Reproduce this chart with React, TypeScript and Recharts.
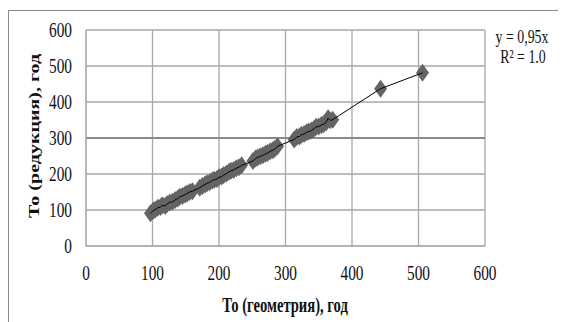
import { ScatterChart, Scatter, XAxis, YAxis, CartesianGrid, ReferenceLine } from "recharts";

// То (геометрия) values, years
const geomX = [
  97, 101, 104, 108, 112, 115, 119, 122, 126, 130, 134, 138, 141, 145, 149, 152, 156, 160,
  171, 175, 179, 182, 186, 190, 193, 197, 200, 204, 207, 211, 215, 218, 222, 226, 230, 234,
  251, 255, 258, 262, 266, 270, 273, 277, 281, 284, 288,
  313, 317, 321, 324, 328, 332, 335, 339, 343, 346, 350, 354, 357, 361, 364, 367, 371,
  443, 506,
];
// То (редукция) values, years
const redY = [
  91, 98, 101, 106, 108, 113, 111, 117, 121, 123, 128, 132, 137, 139, 143, 146, 150, 152,
  162, 167, 171, 174, 177, 182, 184, 186, 191, 193, 197, 201, 206, 209, 211, 216, 219, 224,
  236, 243, 246, 249, 252, 256, 258, 263, 266, 270, 277,
  296, 303, 304, 309, 311, 316, 318, 321, 326, 331, 332, 336, 338, 343, 355, 349, 351,
  437, 481,
];
const axisTicks = [0, 100, 200, 300, 400, 500, 600];

const points = geomX.map((x, i) => ({ x, y: redY[i] }));

const font = "Liberation Serif, Times New Roman, serif";
const squish = 0.73;

const Diamond = (props: any) => {
  const { cx, cy } = props;
  if (cx == null || cy == null) return null;
  return (
    <polygon
      points={`${cx},${cy - 9} ${cx + 6.5},${cy} ${cx},${cy + 9} ${cx - 6.5},${cy}`}
      fill="#646464"
    />
  );
};

const XTick = (props: any) => {
  const { x, y, payload } = props;
  return (
    <text
      transform={`translate(${x},${y + 27}) scale(${squish},1)`}
      textAnchor="middle"
      dominantBaseline="central"
      fontFamily={font}
      fontSize={21}
      fill="#111"
    >
      {payload.value}
    </text>
  );
};

const YTick = (props: any) => {
  const { x, y, payload } = props;
  return (
    <text
      transform={`translate(${x - 14},${y}) scale(${squish},1)`}
      textAnchor="end"
      dominantBaseline="central"
      fontFamily={font}
      fontSize={21}
      fill="#111"
    >
      {payload.value}
    </text>
  );
};

const textBase: any = {
  position: "absolute",
  fontFamily: font,
  color: "#111",
  whiteSpace: "nowrap",
};

export default function App() {
  return (
    <div style={{ position: "relative", width: 558, height: 314 }}>
      <div
        style={{
          position: "absolute",
          left: 0,
          top: 2,
          width: 600,
          height: 400,
          border: "1.5px solid #8a8a8a",
        }}
      />
      <div style={{ position: "absolute", left: 0, top: 0 }}>
        <ScatterChart width={558} height={314} margin={{ top: 22, right: 81, bottom: 0, left: 0 }}>
          <CartesianGrid stroke="#a8a8a8" strokeWidth={1.3} />
          <XAxis
            type="number"
            dataKey="x"
            domain={[0, 600]}
            ticks={axisTicks}
            height={76}
            tickLine={false}
            tickSize={0}
            tickMargin={0}
            axisLine={{ stroke: "#a8a8a8" }}
            tick={<XTick />}
          />
          <YAxis
            type="number"
            dataKey="y"
            domain={[0, 600]}
            ticks={axisTicks}
            width={78}
            tickLine={false}
            tickSize={0}
            tickMargin={0}
            axisLine={{ stroke: "#a8a8a8" }}
            tick={<YTick />}
          />
          <ReferenceLine y={300} stroke="#8a8a8a" strokeWidth={2} />
          <Scatter data={points} shape={<Diamond />} isAnimationActive={false} />
          <Scatter
            data={points}
            line={{ stroke: "#000", strokeWidth: 1 }}
            shape={() => null}
            isAnimationActive={false}
          />
        </ScatterChart>
      </div>
      <div
        style={{
          ...textBase,
          left: 277 - 150,
          top: 297 - 13,
          width: 300,
          textAlign: "center",
          fontWeight: "bold",
          fontSize: 20,
          lineHeight: "26px",
          transform: `scaleX(${squish})`,
        }}
      >
        То (геометрия), год
      </div>
      <div
        style={{
          ...textBase,
          left: 26 - 150,
          top: 128 - 13,
          width: 300,
          textAlign: "center",
          fontWeight: "bold",
          fontSize: 20,
          lineHeight: "26px",
          transform: `rotate(-90deg) scaleY(${squish})`,
        }}
      >
        То (редукция), год
      </div>
      <div
        style={{
          ...textBase,
          left: 514 - 50,
          top: 29 - 9,
          width: 100,
          textAlign: "center",
          fontSize: 19,
          lineHeight: "18px",
          transform: `scaleX(${squish})`,
        }}
      >
        y = 0,95x
      </div>
      <div
        style={{
          ...textBase,
          left: 515 - 50,
          top: 49 - 9,
          width: 100,
          textAlign: "center",
          fontSize: 19,
          lineHeight: "18px",
          transform: `scaleX(${squish})`,
        }}
      >
        R² = 1.0
      </div>
    </div>
  );
}
